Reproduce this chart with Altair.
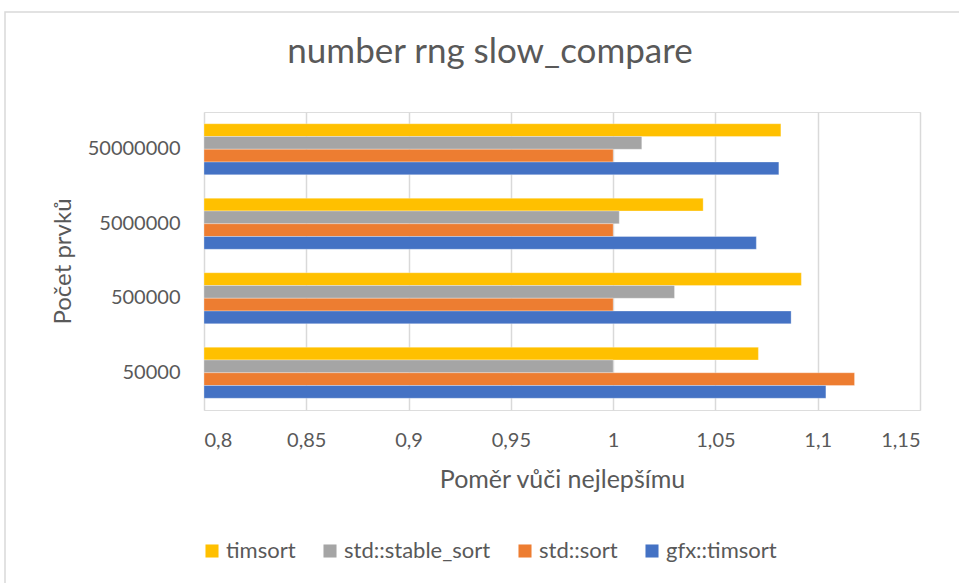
import altair as alt
import pandas as pd

# Relative running time (ratio to the best algorithm) per input size
sizes = ["50000000", "5000000", "500000", "50000"]
algorithms = ["timsort", "std::stable_sort", "std::sort", "gfx::timsort"]
colors = ["#FFC000", "#A5A5A5", "#ED7D31", "#4472C4"]

timsort = [1.082, 1.044, 1.092, 1.071]
stable_sort = [1.014, 1.003, 1.030, 1.000]
std_sort = [1.000, 1.000, 1.000, 1.118]
gfx_timsort = [1.081, 1.070, 1.087, 1.104]

x_ticks = [0.8, 0.85, 0.9, 0.95, 1.0, 1.05, 1.1, 1.15]

series = {
    "timsort": timsort,
    "std::stable_sort": stable_sort,
    "std::sort": std_sort,
    "gfx::timsort": gfx_timsort,
}
rows = []
for algo in algorithms:
    for size, val in zip(sizes, series[algo]):
        rows.append({"size": size, "algo": algo, "ratio": val})
df = pd.DataFrame(rows)

FONT = "Lato"
TEXT = "#595959"
GRID = "#D9D9D9"
W, H = 716, 298

bars = alt.Chart(df).mark_bar(stroke="white", strokeWidth=0.6, strokeOpacity=0.5).encode(
    y=alt.Y(
        "size:N",
        sort=sizes,
        scale=alt.Scale(paddingInner=0.315, paddingOuter=0.1575),
        axis=alt.Axis(
            title="Počet prvků",
            titleFont=FONT,
            titleFontSize=24,
            titleFontWeight="normal",
            titleColor=TEXT,
            titlePadding=12,
            labelFont=FONT,
            labelFontSize=20,
            labelColor=TEXT,
            labelPadding=24,
            ticks=False,
            domain=False,
        ),
    ),
    yOffset=alt.YOffset("algo:N", sort=algorithms),
    x=alt.X(
        "ratio:Q",
        scale=alt.Scale(domain=[0.8, 1.15], zero=False, nice=False),
        axis=alt.Axis(
            values=x_ticks,
            labelExpr="replace(toString(datum.value), '.', ',')",
            title="Poměr vůči nejlepšímu",
            titleFont=FONT,
            titleFontSize=25,
            titleFontWeight="normal",
            titleColor=TEXT,
            titlePadding=17,
            labelFont=FONT,
            labelFontSize=20,
            labelColor=TEXT,
            labelPadding=20,
            ticks=False,
            domain=False,
            grid=True,
            gridColor=GRID,
            gridWidth=1.5,
        ),
    ),
    x2=alt.datum(0.8),
    color=alt.Color(
        "algo:N",
        sort=algorithms,
        scale=alt.Scale(domain=algorithms, range=colors),
        legend=alt.Legend(
            title=None,
            orient="none",
            legendX=-3,
            legendY=428,
            direction="horizontal",
            symbolType="square",
            symbolSize=170,
            symbolStrokeWidth=0,
            labelFont=FONT,
            labelFontSize=22,
            labelColor=TEXT,
            labelOffset=3,
            columnPadding=23,
        ),
    ),
)

frame = alt.Chart(pd.DataFrame({"k": [0]})).mark_rect(
    fill=None, stroke=GRID, strokeWidth=1.5
).encode(
    x=alt.value(-199),
    x2=alt.value(W + 80),
    y=alt.value(-100),
    y2=alt.value(H + 250),
)

chart = alt.layer(frame, bars).properties(
    width=W,
    height=H,
    title=alt.TitleParams(
        "number rng slow_compare",
        font=FONT,
        fontSize=35,
        fontWeight="normal",
        color=TEXT,
        anchor="middle",
        baseline="alphabetic",
        dx=-72,
        dy=87,
        offset=0,
    ),
    autosize=alt.AutoSizeParams(type="none"),
    padding={"left": 204, "top": 112, "right": 39, "bottom": 173},
).configure_view(stroke=None).configure(background="white")

chart.save("out.html", embed_options={"renderer": "svg", "actions": False})
